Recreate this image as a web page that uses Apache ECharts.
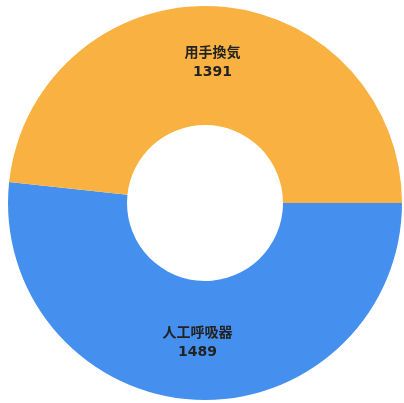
<!DOCTYPE html>
<html>
<head>
    <meta charset="utf-8"/>
    <title>ECharts</title>
    <script type="text/javascript" src="https://cdn.jsdelivr.net/npm/echarts@6/dist/echarts.min.js"></script>
    <style>
        html, body { margin: 0; padding: 0; background: #fff; }
        #main { width: 404px; height: 403px; }
    </style>
</head>
<body>
<div id="main"></div>
<script type="text/javascript">
    // 数据
    var names = ['人工呼吸器', '用手換気'];
    var values = [1489, 1391];
    var colors = ['#4590EE', '#F9B242'];

    var pieData = [];
    for (var i = 0; i < names.length; i++) {
        pieData.push({
            name: names[i],
            value: values[i],
            itemStyle: { color: colors[i] }
        });
    }

    var myChart = echarts.init(document.getElementById('main'));
    var option = {
        animation: false,
        series: [
            {
                type: 'pie',
                center: [205, 203],
                radius: [78, 197],
                startAngle: 0,
                clockwise: true,
                avoidLabelOverlap: false,
                label: {
                    show: true,
                    position: 'inside',
                    formatter: '{b}\n{c}',
                    color: '#222',
                    fontSize: 14,
                    fontWeight: 'bold',
                    lineHeight: 19,
                    fontFamily: '"DejaVu Sans", "Noto Sans CJK JP", sans-serif'
                },
                labelLine: { show: false },
                itemStyle: { borderWidth: 0 },
                emphasis: { disabled: true },
                data: pieData
            }
        ]
    };
    myChart.setOption(option);
</script>
</body>
</html>
